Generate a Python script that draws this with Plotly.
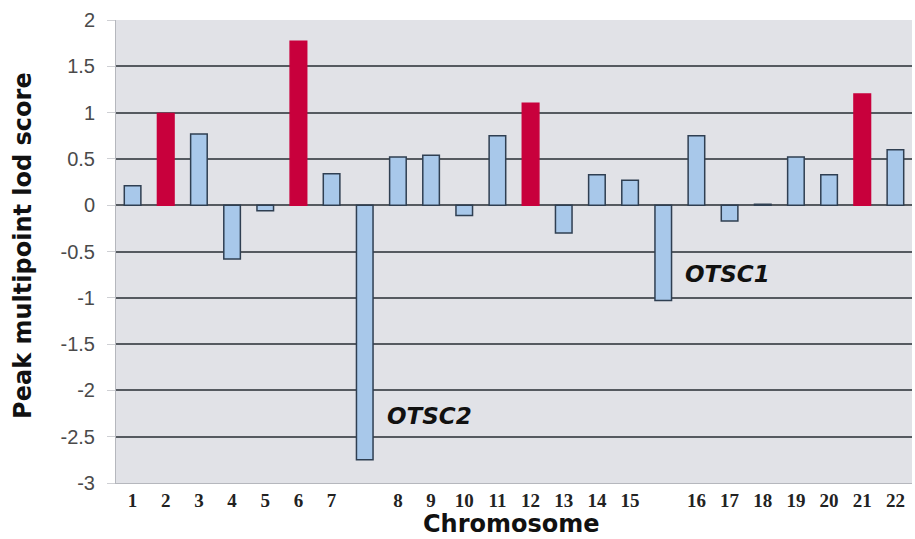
import plotly.graph_objects as go

# Slots along the x axis (empty labels are the OTSC2 / OTSC1 fine-mapping bars)
chrom_labels = ["1", "2", "3", "4", "5", "6", "7", "", "8", "9", "10", "11",
                "12", "13", "14", "15", "", "16", "17", "18", "19", "20", "21", "22"]
lod_scores = [0.21, 0.99, 0.77, -0.58, -0.06, 1.77, 0.34, -2.75, 0.52, 0.54, -0.11, 0.75,
              1.10, -0.30, 0.33, 0.27, -1.03, 0.75, -0.17, 0.01, 0.52, 0.33, 1.20, 0.60]
highlighted = [False, True, False, False, False, True, False, False, False, False, False, False,
               True, False, False, False, False, False, False, False, False, False, True, False]

y_ticks = [2, 1.5, 1, 0.5, 0, -0.5, -1, -1.5, -2, -2.5, -3]
y_tick_text = ["2", "1.5", "1", "0.5", "0", "-0.5", "-1", "-1.5", "-2", "-2.5", "-3"]

annotations_text = ["OTSC2", "OTSC1"]
annotations_x = [7.6, 16.6]
annotations_y = [-2.28, -0.74]

RED = "#c8003c"
BLUE = "#a8c8ea"
x_pos = list(range(len(chrom_labels)))

fill = [RED if h else BLUE for h in highlighted]
edge = [RED if h else "#2f3f52" for h in highlighted]

fig = go.Figure()
fig.add_trace(go.Bar(
    x=x_pos, y=lod_scores, width=0.5,
    marker=dict(color=fill, line=dict(color=edge, width=1.5)),
    showlegend=False,
))

for t, ax, ay in zip(annotations_text, annotations_x, annotations_y):
    fig.add_annotation(x=ax, y=ay, text=t, showarrow=False, xanchor="left", yanchor="middle",
                       font=dict(family="DejaVu Sans", size=23, color="#111",
                                 weight="bold", style="italic"))

# Axis titles as paper annotations for precise placement
fig.add_annotation(xref="paper", yref="paper", x=-0.117, y=0.514, text="<b>Peak multipoint lod score</b>",
                   textangle=-90, showarrow=False, xanchor="center", yanchor="middle",
                   font=dict(family="DejaVu Sans", size=24, color="#111"))
fig.add_annotation(xref="paper", yref="paper", x=0.497, y=-0.088, text="<b>Chromosome</b>",
                   showarrow=False, xanchor="center", yanchor="middle",
                   font=dict(family="DejaVu Sans", size=24, color="#111"))

fig.update_layout(
    width=915, height=539,
    margin=dict(l=116, r=3, t=20, b=56, autoexpand=False),
    paper_bgcolor="white",
    plot_bgcolor="#e1e2e7",
    bargap=0.5,
    xaxis=dict(
        tickmode="array", tickvals=x_pos, ticktext=chrom_labels,
        range=[-0.5, len(chrom_labels) - 0.5],
        showgrid=False, zeroline=False, automargin=False,
        showline=True, linecolor="#b5b7bd", linewidth=1,
        ticks="", ticklen=0,
        tickfont=dict(family="Liberation Serif", size=19, color="#222", weight="bold"),
    ),
    yaxis=dict(
        range=[-3, 2], tickmode="array", tickvals=y_ticks, ticktext=y_tick_text,
        showgrid=True, gridcolor="#555a60", gridwidth=2, automargin=False,
        zeroline=True, zerolinecolor="#555a60", zerolinewidth=2,
        showline=True, linecolor="#b5b7bd", linewidth=1,
        ticks="outside", ticklen=8, tickcolor="#cfd0d4",
        ticklabelstandoff=8,
        tickfont=dict(family="Liberation Sans", size=20, color="#4a4a4a"),
    ),
)

fig.write_html("out.html", config={"displayModeBar": False},
               post_script="document.body.style.margin='0';document.body.style.overflow='hidden';")
